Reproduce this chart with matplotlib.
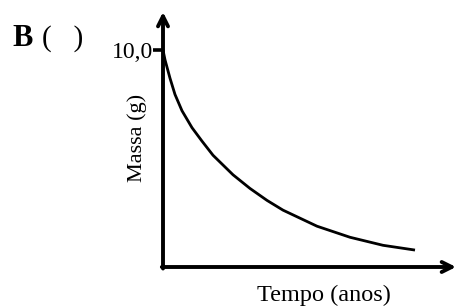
import matplotlib.pyplot as plt

# Curva de decaimento
tempo = [0, 0.1, 0.35, 0.6, 0.95, 1.45, 1.95, 2.5, 3.5, 4.35, 5.2, 6.0,
         7.7, 9.35, 11.0, 12.6]
massa = [10.0, 9.55, 8.7, 7.95, 7.2, 6.42, 5.8, 5.15, 4.25, 3.62, 3.07,
         2.62, 1.88, 1.37, 1.0, 0.78]
yticks = [10.0]
ytick_labels = ['10,0']

W, H = 456, 307
fig = plt.figure(figsize=(W / 100, H / 100), dpi=100)
plt.rcParams['font.family'] = ['Liberation Serif', 'DejaVu Serif']

# eixos: y em x=163 px, x em y=267 px
x0, y0, x1, y1 = 163, 267, 456, 12
ax = fig.add_axes([x0 / W, (H - y0) / H, (x1 - x0) / W, (y0 - y1) / H])
ax.set_xlim(0, (x1 - x0) / 20)
ax.set_ylim(0, (y0 - y1) / 21.7)

ax.plot(tempo, massa, color='black', lw=2.0, solid_capstyle='butt',
        solid_joinstyle='round')

for s in ax.spines.values():
    s.set_visible(False)
ax.set_xticks([])
ax.set_yticks(yticks)
ax.set_yticklabels(ytick_labels, fontsize=17)
ax.tick_params(axis='y', length=7, width=2.6, pad=0, direction='out')

arrow = dict(arrowstyle='->', lw=2.8, color='black', mutation_scale=18,
             shrinkA=0, shrinkB=0)
ax.annotate('', xy=(0, 1), xytext=(0, -0.006), xycoords='axes fraction',
            arrowprops=arrow)
ax.annotate('', xy=(1, 0), xytext=(-0.004, 0), xycoords='axes fraction',
            arrowprops=arrow)

fig.text(137 / W, 1 - 138 / H, 'Massa (g)', rotation=90, fontsize=16,
         ha='center', va='center')
fig.text(324 / W, 1 - 295 / H, 'Tempo (anos)', fontsize=17.5,
         ha='center', va='center')
fig.text(12 / W, 1 - 39 / H, 'B', fontsize=22, fontweight='bold',
         ha='left', va='center')
fig.text(42 / W, 1 - 39 / H, '(   )', fontsize=21, ha='left', va='center')

fig.savefig('out.png', dpi=100)
